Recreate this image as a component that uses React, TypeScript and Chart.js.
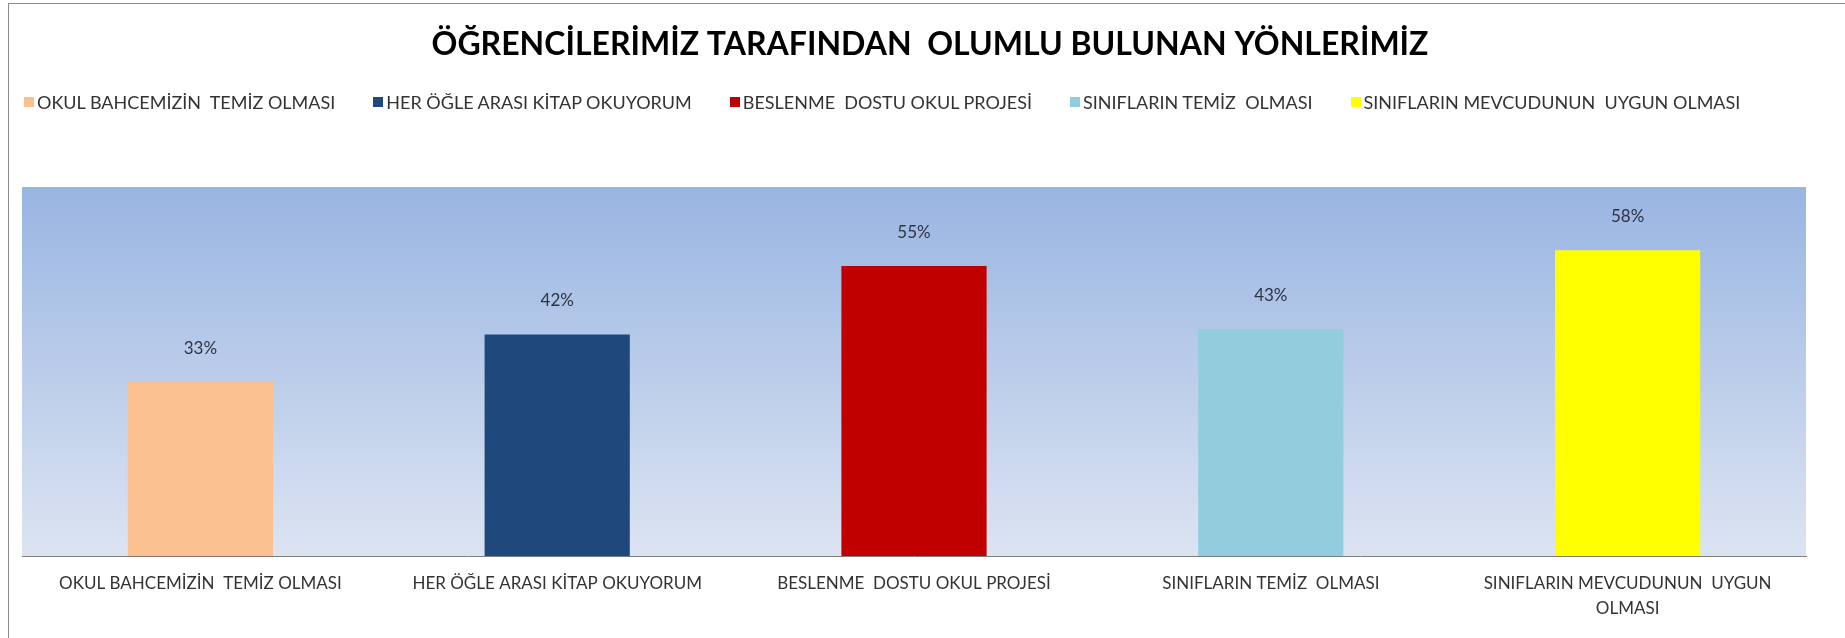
import React, { useEffect, useRef } from 'react';
import { Chart, registerables } from 'chart.js';

Chart.register(...registerables);

const titleText = 'ÖĞRENCİLERİMİZ TARAFINDAN  OLUMLU BULUNAN YÖNLERİMİZ';

const categories = [
  'OKUL BAHCEMİZİN  TEMİZ OLMASI',
  'HER ÖĞLE ARASI KİTAP OKUYORUM',
  'BESLENME  DOSTU OKUL PROJESİ',
  'SINIFLARIN TEMİZ  OLMASI',
  'SINIFLARIN MEVCUDUNUN  UYGUN OLMASI',
];

const tickLabels = [
  ['OKUL BAHCEMİZİN  TEMİZ OLMASI'],
  ['HER ÖĞLE ARASI KİTAP OKUYORUM'],
  ['BESLENME  DOSTU OKUL PROJESİ'],
  ['SINIFLARIN TEMİZ  OLMASI'],
  ['SINIFLARIN MEVCUDUNUN  UYGUN', 'OLMASI'],
];

const values = [0.33, 0.42, 0.55, 0.43, 0.58];

const barColors = ['#FAC090', '#1F497D', '#C00000', '#93CDDD', '#FFFF00'];

const yMax = 0.7;

const FONT = 'Lato, "Open Sans", sans-serif';
const W = 1845;
const H = 638;

export default function App() {
  const ref = useRef<HTMLCanvasElement>(null);

  useEffect(() => {
    const canvas = ref.current;
    if (!canvas) return;

    const bgPlugin = {
      id: 'plotBg',
      beforeDraw(chart: any) {
        const { ctx, chartArea: a } = chart;
        ctx.save();
        ctx.fillStyle = '#ffffff';
        ctx.fillRect(0, 0, chart.width, chart.height);
        ctx.strokeStyle = '#8c8c8c';
        ctx.lineWidth = 1;
        ctx.strokeRect(8.5, 3.5, chart.width + 20, chart.height + 20);
        const g = ctx.createLinearGradient(0, a.top, 0, a.bottom);
        g.addColorStop(0, '#99B5E2');
        g.addColorStop(1, '#DCE4F2');
        ctx.fillStyle = g;
        ctx.fillRect(a.left, a.top, a.right - a.left, a.bottom - a.top);
        ctx.restore();
      },
    };

    const labelPlugin = {
      id: 'valueLabels',
      afterDatasetsDraw(chart: any) {
        const { ctx } = chart;
        const meta = chart.getDatasetMeta(0);
        ctx.save();
        ctx.font = `17px ${FONT}`;
        ctx.fillStyle = '#2f3340';
        ctx.textAlign = 'center';
        ctx.textBaseline = 'middle';
        meta.data.forEach((bar: any, i: number) => {
          const v = chart.data.datasets[0].data[i] as number;
          ctx.fillText(`${Math.round(v * 100)}%`, bar.x, bar.y - 34);
        });
        ctx.restore();
      },
    };

    const chart = new Chart(canvas, {
      type: 'bar',
      data: {
        labels: tickLabels as any,
        datasets: [
          {
            data: values,
            backgroundColor: barColors,
            borderWidth: 0,
            barPercentage: 0.407,
            categoryPercentage: 1.0,
          },
        ],
      },
      options: {
        responsive: false,
        animation: false,
        devicePixelRatio: 1,
        layout: { padding: { left: 15, right: 0, top: 0, bottom: 0 } },
        plugins: {
          legend: { display: false },
          tooltip: { enabled: false },
          title: {
            display: true,
            text: titleText,
            color: '#000000',
            font: { family: FONT, size: 32, weight: 'bold', lineHeight: 1.2 },
            padding: { top: 25.8, bottom: 122.8 },
          },
        },
        scales: {
          x: {
            position: 'bottom',
            grid: { display: false, drawTicks: false },
            border: { display: true, color: '#7f7f7f', width: 1 },
            ticks: {
              color: '#333333',
              padding: 15.5,
              maxRotation: 0,
              autoSkip: false,
              font: { family: FONT, size: 17, lineHeight: 1.47 },
            },
            afterFit(s: any) {
              s.height = 82;
            },
          },
          y: {
            position: 'left',
            min: 0,
            max: yMax,
            display: true,
            grid: { display: false, drawTicks: false },
            border: { display: false },
            ticks: { display: false },
            afterFit(s: any) {
              s.width = 7;
            },
          },
          yR: {
            type: 'linear',
            position: 'right',
            min: 0,
            max: yMax,
            display: true,
            grid: { display: false, drawTicks: false },
            border: { display: false },
            ticks: { display: false },
            afterFit(s: any) {
              s.width = 39;
            },
          },
        },
      },
      plugins: [bgPlugin, labelPlugin],
    });

    return () => chart.destroy();
  }, []);

  return (
    <div style={{ position: 'absolute', left: 0, top: 0, width: W, height: H, background: '#fff' }}>
      <canvas ref={ref} width={W} height={H} style={{ position: 'absolute', left: 0, top: 0, width: W, height: H }} />
      <div
        style={{
          position: 'absolute',
          left: 24,
          top: 91,
          display: 'flex',
          gap: 38,
          font: `18px ${FONT}`,
          lineHeight: '22px',
          color: '#333333',
          whiteSpace: 'pre',
        }}
      >
        {categories.map((c, i) => (
          <div key={i} style={{ display: 'flex', alignItems: 'center' }}>
            <span
              style={{ display: 'inline-block', width: 10, height: 10, background: barColors[i], marginRight: 3 }}
            />
            <span>{c}</span>
          </div>
        ))}
      </div>
    </div>
  );
}
